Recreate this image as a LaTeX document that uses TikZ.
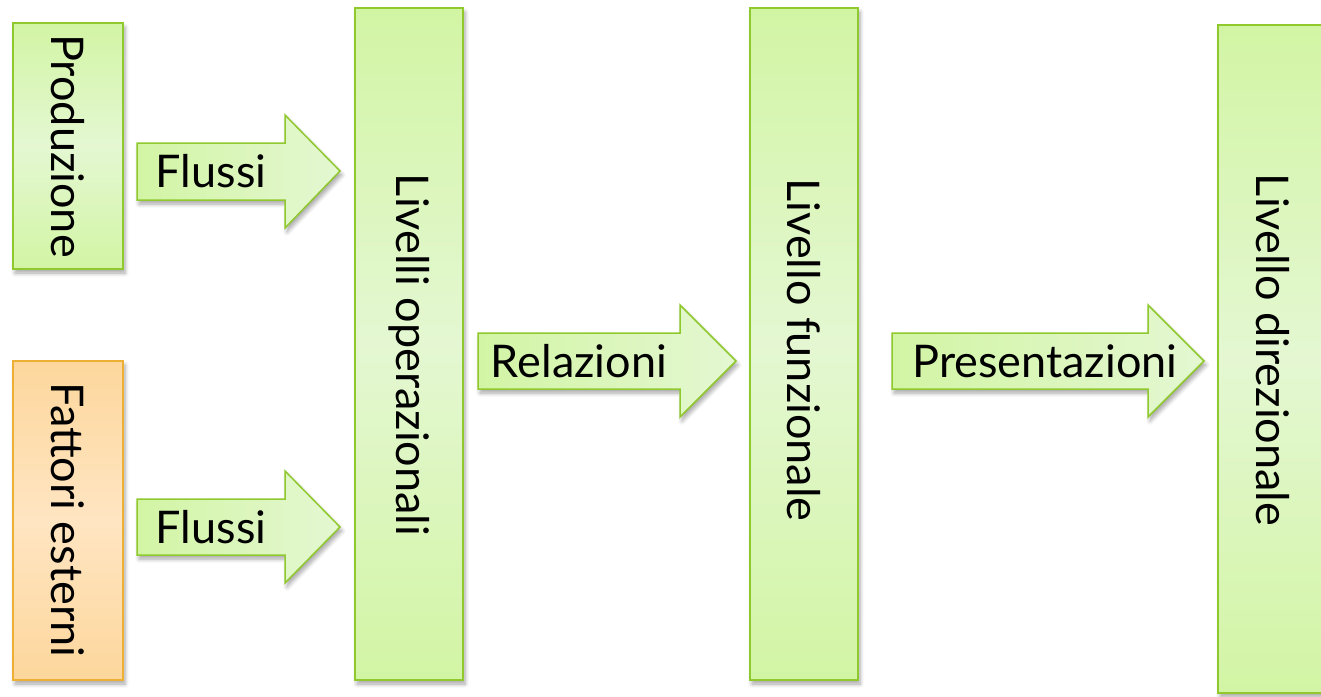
\documentclass[tikz,border=0pt]{standalone}
\usepackage{fontspec}
\setmainfont{Lato}
\usetikzlibrary{shadows.blur}
\definecolor{grnA}{HTML}{D2F5A4}
\definecolor{grnB}{HTML}{E4F7D2}
\definecolor{grnLine}{HTML}{8FC92E}
\definecolor{orgA}{HTML}{FDD79C}
\definecolor{orgB}{HTML}{FFE5C2}
\definecolor{orgLine}{HTML}{EDB034}
\tikzset{
  shad/.style={blur shadow={shadow xshift=2pt, shadow yshift=-4pt, shadow blur steps=6, shadow opacity=35, shadow blur radius=4pt}},
  greenbox/.style={shad, draw=grnLine, line width=1.5pt, top color=grnA, bottom color=grnA, middle color=grnB},
  orangebox/.style={shad, draw=orgLine, line width=1.5pt, top color=orgA, bottom color=orgA, middle color=orgB},
  arrowbody/.style={shad, draw=grnLine, line width=1.5pt, left color=grnA, right color=grnB},
  vtext/.style={rotate=-90, font=\fontsize{45}{47}\selectfont, inner sep=0pt},
  htext/.style={font=\fontsize{45}{47}\selectfont, inner sep=0pt},
}
\begin{document}
\begin{tikzpicture}[x=1pt,y=-1pt]
\useasboundingbox (0,0) rectangle (1321,696);
% boxes
\path[greenbox] (13,23) rectangle (123,269);
\node[vtext] (prod) at (68,146) {Produzione};
\path[orangebox] (13,361) rectangle (123,680);
\node[vtext] (fatt) at (68,520) {Fattori esterni};
\path[greenbox] (355,8) rectangle (463,680);
\node[vtext] (oper) at (409,355) {Livelli operazionali};
\path[greenbox] (750,8) rectangle (858,680);
\node[vtext] (funz) at (804,350) {Livello funzionale};
\path[greenbox] (1218,25) rectangle (1330,693);
\node[vtext] (dire) at (1273,350) {Livello direzionale};
% block arrows
\path[arrowbody] (137,143) -- (285,143) -- (285,115) -- (340,171) -- (285,228) -- (285,200) -- (137,200) -- cycle;
\node[htext] (fl1) at (211,171) {Flussi};
\path[arrowbody] (137,499) -- (285,499) -- (285,471) -- (340,527) -- (285,583) -- (285,555) -- (137,555) -- cycle;
\node[htext] (fl2) at (211,527) {Flussi};
\path[arrowbody] (478,333) -- (680,333) -- (680,305) -- (736,361) -- (680,417) -- (680,389) -- (478,389) -- cycle;
\node[htext] (rel) at (579,361) {Relazioni};
\path[arrowbody] (892,333) -- (1148,333) -- (1148,305) -- (1204,361) -- (1148,417) -- (1148,389) -- (892,389) -- cycle;
\node[htext] (pres) at (1045,361) {Presentazioni};
\end{tikzpicture}
\end{document}
